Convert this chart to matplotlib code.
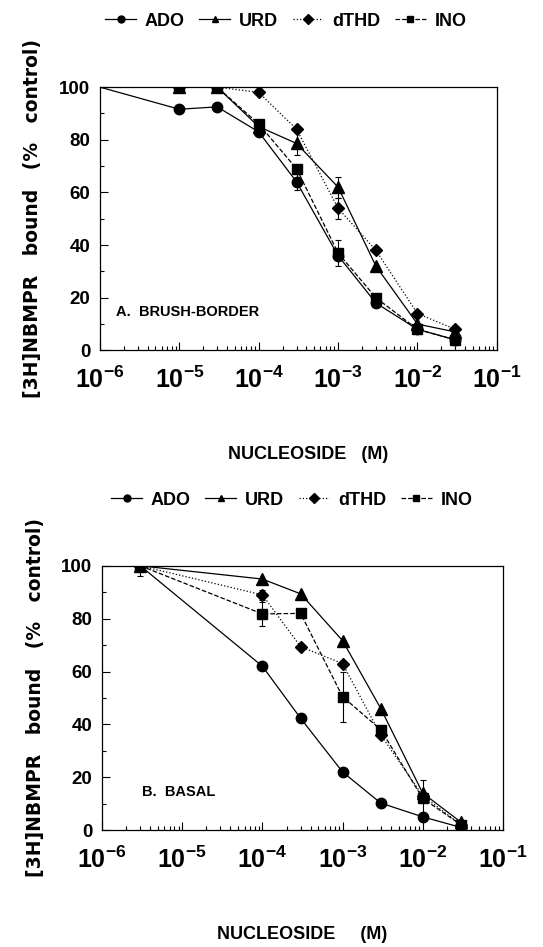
import matplotlib
matplotlib.use("Agg")
import matplotlib.pyplot as plt
from matplotlib.ticker import LogLocator, MultipleLocator, FixedLocator

plt.rcParams['font.family'] = ['Liberation Sans', 'DejaVu Sans']
plt.rcParams['font.weight'] = 'bold'
plt.rcParams['mathtext.fontset'] = 'custom'
plt.rcParams['mathtext.rm'] = 'Liberation Sans:bold'
plt.rcParams['mathtext.bf'] = 'Liberation Sans:bold'
plt.rcParams['mathtext.default'] = 'bf'

# panel A: brush-border
conc_a_ado = [1e-6, 1e-5, 3e-5, 1e-4, 3e-4, 1e-3, 3e-3, 1e-2, 3e-2]
conc_a = [1e-5, 3e-5, 1e-4, 3e-4, 1e-3, 3e-3, 1e-2, 3e-2]
ado_a = [100, 91.6, 92.5, 83, 64, 36, 18, 8, 4]
urd_a = [100, 100, 85, 78.6, 62, 32, 10, 7]
dthd_a = [100, 100, 98, 84, 54, 38, 14, 8]
ino_a = [100, 100, 86, 69, 37, 20, 8, 4]
ado_a_err = [0, 0, 0, 0, 3, 0, 0, 0, 0]
urd_a_err = [0, 0, 0, 4.5, 4, 0, 0, 0]
dthd_a_err = [0, 0, 0, 0, 4, 0, 0, 0]
ino_a_err = [0, 0, 0, 0, 5, 0, 0, 0]

# panel B: basal
conc_b = [3e-6, 1e-4, 3e-4, 1e-3, 3e-3, 1e-2, 3e-2]
ado_b = [100, 62, 42.3, 22, 10.2, 5, 1]
urd_b = [100, 95, 89.4, 71.7, 46, 14, 3]
dthd_b = [100, 89, 69.4, 63, 36, 13, 2]
ino_b = [100, 81.8, 82, 50.5, 38, 12, 2]
ado_b_err = [0, 0, 0, 0, 0, 0, 0]
urd_b_err = [0, 0, 0, 0, 0, 0, 0]
dthd_b_err = [0, 2, 0, 0, 0, 0, 0]
ino_b_err = [4, 4.5, 0, 9.5, 0, 7, 0]

x_ticks = [1e-6, 1e-5, 1e-4, 1e-3, 1e-2, 1e-1]
x_labels = [r'$10^{-6}$', r'$10^{-5}$', r'$10^{-4}$', r'$10^{-3}$', r'$10^{-2}$', r'$10^{-1}$']
y_ticks = [0, 20, 40, 60, 80, 100]

names = ['ADO', 'URD', 'dTHD', 'INO']
markers = ['o', '^', 'D', 's']
sizes = [7.5, 8, 6, 7.5]
styles = ['-', '-', ':', '--']


def draw_panel(ax, series, panel_label, label_pos, xlabel, xlabel_x):
    handles = []
    for (x, y, err, skip_first), name, mk, ms, ls in zip(series, names, markers, sizes, styles):
        every = list(range(1, len(x))) if skip_first else None
        ax.errorbar(x, y, yerr=err, fmt='none', ecolor='black', elinewidth=0.8,
                    capsize=2.5, capthick=0.8)
        ax.plot(x, y, color='black', linestyle=ls, linewidth=0.9,
                marker=mk, markersize=ms, markevery=every)
        handles.append(plt.Line2D([], [], color='black', linestyle=ls, linewidth=0.9,
                                  marker=mk, markersize=5))
    ax.set_xscale('log')
    ax.set_xlim(1e-6, 1e-1)
    ax.set_ylim(0, 100)
    ax.xaxis.set_major_locator(FixedLocator(x_ticks))
    ax.set_xticklabels(x_labels, fontsize=18)
    ax.xaxis.set_minor_locator(LogLocator(base=10, subs=range(2, 10), numticks=20))
    ax.set_yticks(y_ticks)
    ax.set_yticklabels([str(v) for v in y_ticks], fontsize=13.5, fontweight='bold')
    ax.yaxis.set_minor_locator(MultipleLocator(10))
    ax.tick_params(which='both', direction='in', top=False, right=False)
    ax.tick_params(which='major', length=6, width=0.8)
    ax.tick_params(which='minor', length=3, width=0.8)
    ax.tick_params(axis='x', pad=12)
    ax.tick_params(axis='y', pad=7)
    for sp in ax.spines.values():
        sp.set_linewidth(0.9)
    ax.text(label_pos[0], label_pos[1], panel_label, transform=ax.transAxes,
            fontsize=10.5, fontweight='bold')
    ax.set_ylabel('[3H]NBMPR   bound   (%   control)', fontsize=13.5,
                  fontweight='bold', family='DejaVu Sans', labelpad=12)
    ax.set_xlabel(xlabel, fontsize=13, fontweight='bold', labelpad=38, x=xlabel_x)
    return handles


fig = plt.figure(figsize=(5.43, 9.47), dpi=100)

ax1 = fig.add_axes([0.184, 0.630, 0.731, 0.278])
h1 = draw_panel(ax1, [
    (conc_a_ado, ado_a, ado_a_err, True),
    (conc_a, urd_a, urd_a_err, False),
    (conc_a, dthd_a, dthd_a_err, False),
    (conc_a, ino_a, ino_a_err, False),
], 'A.  BRUSH-BORDER', (0.04, 0.13), 'NUCLEOSIDE   (M)', 0.525)
ax1.legend(h1, names, loc='center', bbox_to_anchor=(286 / 543, 1 - 21 / 947),
           bbox_transform=fig.transFigure, ncol=4, frameon=False, fontsize=13,
           handlelength=1.7, handletextpad=0.5, columnspacing=0.8)

ax2 = fig.add_axes([0.188, 0.1235, 0.738, 0.279])
h2 = draw_panel(ax2, [
    (conc_b, ado_b, ado_b_err, False),
    (conc_b, urd_b, urd_b_err, False),
    (conc_b, dthd_b, dthd_b_err, False),
    (conc_b, ino_b, ino_b_err, False),
], 'B.  BASAL', (0.1, 0.13), 'NUCLEOSIDE     (M)', 0.5)
ax2.legend(h2, names, loc='center', bbox_to_anchor=(292 / 543, 1 - 500 / 947),
           bbox_transform=fig.transFigure, ncol=4, frameon=False, fontsize=13,
           handlelength=1.7, handletextpad=0.5, columnspacing=0.8)

fig.savefig('out.png', dpi=100)
